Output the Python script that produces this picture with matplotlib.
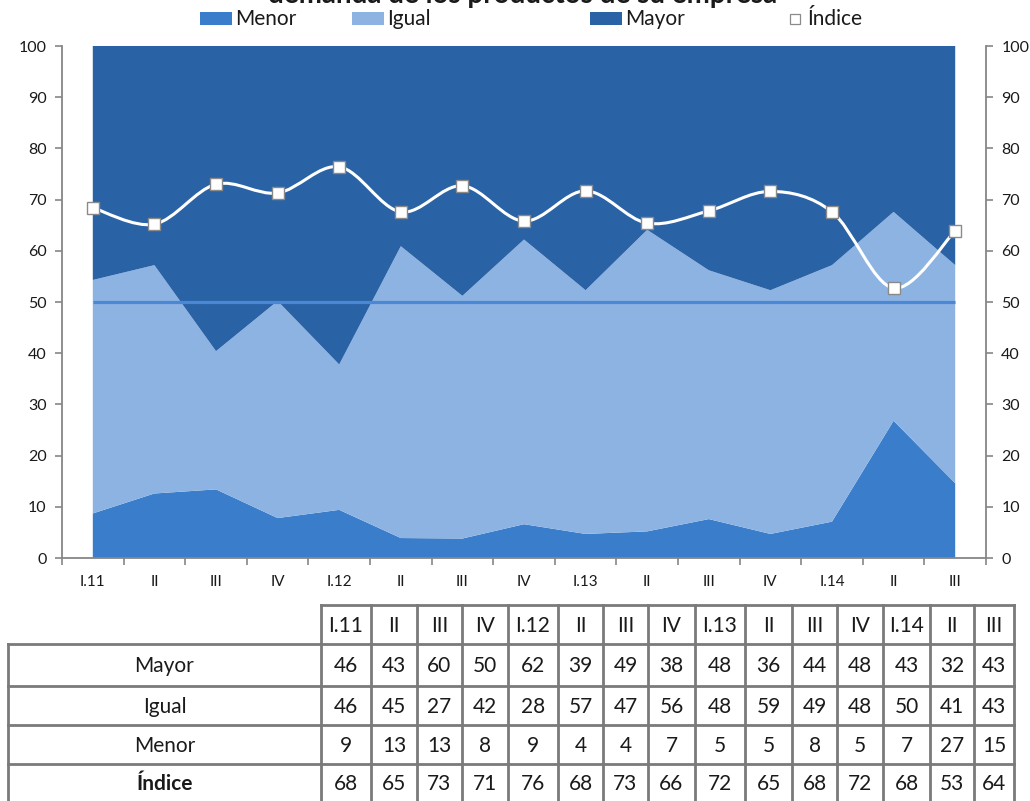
import matplotlib
matplotlib.use("Agg")
import matplotlib.pyplot as plt
import numpy as np
from matplotlib.path import Path
from matplotlib.patches import PathPatch, Rectangle

plt.rcParams['font.family'] = ['Lato', 'DejaVu Sans']

# ---------------- data ----------------
categories = ["I.11", "II", "III", "IV", "I.12", "II", "III", "IV",
              "I.13", "II", "III", "IV", "I.14", "II", "III"]
menor = [8.7, 12.6, 13.4, 7.8, 9.4, 3.9, 3.8, 6.6, 4.7, 5.2, 7.6, 4.7, 7.1, 26.8, 14.6]
igual = [45.6, 44.6, 27.0, 42.4, 28.4, 57.0, 47.4, 55.6, 47.6, 58.9, 48.6, 47.6, 50.1, 40.8, 42.6]
mayor = [45.7, 42.8, 59.6, 49.8, 62.2, 39.1, 48.8, 37.8, 47.7, 35.9, 43.8, 47.7, 42.8, 32.4, 42.8]
indice = [68.4, 65.2, 73.0, 71.3, 76.4, 67.6, 72.7, 65.8, 71.7, 65.4, 67.8, 71.6, 67.6, 52.7, 63.9]
reference_level = 50
y_ticks = [0, 10, 20, 30, 40, 50, 60, 70, 80, 90, 100]

# ---------------- style ----------------
C_MENOR = "#3a7dcb"
C_IGUAL = "#8db3e2"
C_MAYOR = "#2a62a6"
C_LINE50 = "#4a88d6"
C_SPINE = "#868686"
C_GRID = "#7a7a7a"
TXT = "#1a1a1a"
W, H = 1030, 801

fig = plt.figure(figsize=(W / 100, H / 100), dpi=100)
ax = fig.add_axes([62 / W, 1 - 558 / H, (986 - 62) / W, (558 - 46) / H])

x = np.arange(len(categories))
ax.stackplot(x, menor, igual, mayor, colors=[C_MENOR, C_IGUAL, C_MAYOR],
             linewidth=0, zorder=1)
ax.plot([x[0], x[-1]], [reference_level, reference_level], color=C_LINE50,
        lw=2.3, zorder=2, solid_capstyle='butt')

# smoothed index line (Bezier through data points)
pts = np.column_stack([x, indice]).astype(float)
ext = np.vstack([pts[0], pts, pts[-1]])
verts = [tuple(pts[0])]
codes = [Path.MOVETO]
for i in range(len(pts) - 1):
    p0, p1, p2, p3 = ext[i], ext[i + 1], ext[i + 2], ext[i + 3]
    c1 = p1 + (p2 - p0) / 6.0
    c2 = p2 - (p3 - p1) / 6.0
    verts += [tuple(c1), tuple(c2), tuple(p2)]
    codes += [Path.CURVE4] * 3
ax.add_patch(PathPatch(Path(verts, codes), facecolor='none', edgecolor='white',
                       lw=2.2, zorder=3))
ax.plot(x, indice, ls='none', marker='s', ms=8.5, mfc='white', mec='#8a8a8a',
        mew=1.0, zorder=4)

ax.set_xlim(-0.5, len(categories) - 0.5)
ax.set_ylim(0, 100)
ax.set_facecolor('white')
ax.spines['top'].set_visible(False)
for s in ['left', 'right', 'bottom']:
    ax.spines[s].set_color(C_SPINE)
    ax.spines[s].set_linewidth(1.3)

ax.set_yticks(y_ticks)
ax.set_yticklabels([str(v) for v in y_ticks])
ax.tick_params(axis='y', which='both', left=True, right=True, labelleft=True,
               labelright=True, direction='out', length=5, width=1.2,
               color=C_SPINE, labelsize=11.5, pad=6, labelcolor=TXT)
ax.set_xticks(x)
ax.set_xticklabels(categories)
ax.set_xticks(np.arange(-0.5, len(categories)), minor=True)
ax.tick_params(axis='x', which='major', length=0, labelsize=11, pad=12,
               labelcolor=TXT)
ax.tick_params(axis='x', which='minor', length=5, width=1.2, color=C_SPINE,
               direction='out')

# ---------------- overlay: title, legend, table ----------------
ov = fig.add_axes([0, 0, 1, 1], zorder=10)
ov.set_xlim(0, W)
ov.set_ylim(H, 0)
ov.axis('off')
ov.patch.set_visible(False)

ov.text(523, 3, "demanda de los productos de su empresa", ha='center',
        va='baseline', fontsize=20, fontweight='bold', color=TXT)

leg_items = [("Menor", C_MENOR, 200), ("Igual", C_IGUAL, 352), ("Mayor", C_MAYOR, 590)]
for name, col, lx in leg_items:
    ov.add_patch(Rectangle((lx, 12), 32, 13, facecolor=col, edgecolor='none'))
    ov.text(lx + 35, 19, name, ha='left', va='center', fontsize=15, color=TXT)
ov.plot([795], [19], ls='none', marker='s', ms=7, mfc='white', mec='#8a8a8a', mew=0.9)
ov.text(808, 19, "Índice", ha='left', va='center', fontsize=15, color=TXT)

# table
col_edges = [321, 371, 417, 462, 508, 558, 603, 648, 695, 745, 792, 837, 883, 930, 974, 1014]
row_edges = [605, 644, 686, 725, 764, 810]
label_left = 8
table_rows = [("Mayor", mayor, 'normal'), ("Igual", igual, 'normal'),
              ("Menor", menor, 'normal'), ("Índice", indice, 'bold')]
lw_t = 2.0
ov.plot([col_edges[0], col_edges[-1]], [row_edges[0]] * 2, color=C_GRID, lw=lw_t,
        solid_capstyle='projecting')
for ry in row_edges[1:5]:
    ov.plot([label_left, col_edges[-1]], [ry, ry], color=C_GRID, lw=lw_t,
            solid_capstyle='projecting')
for cx in col_edges:
    ov.plot([cx, cx], [row_edges[0], H + 5], color=C_GRID, lw=lw_t,
            solid_capstyle='projecting')
ov.plot([label_left, label_left], [row_edges[1], H + 5], color=C_GRID, lw=lw_t)

FS_T = 15
for j, cat in enumerate(categories):
    cx = (col_edges[j] + col_edges[j + 1]) / 2
    ov.text(cx, (row_edges[0] + row_edges[1]) / 2 + 1.5, cat, ha='center', va='center',
            fontsize=FS_T, color=TXT)
for r, (name, vals, fw) in enumerate(table_rows):
    cy = (row_edges[r + 1] + row_edges[r + 2]) / 2 + 1.5
    if r == 3:
        cy = (row_edges[4] + H) / 2 + 2
    ov.text((label_left + col_edges[0]) / 2, cy, name, ha='center', va='center',
            fontsize=FS_T, fontweight=fw, color=TXT)
    for j, v in enumerate(vals):
        cx = (col_edges[j] + col_edges[j + 1]) / 2
        ov.text(cx, cy, f"{v:.0f}", ha='center', va='center', fontsize=FS_T,
                color=TXT)

fig.savefig("out.png", dpi=100)
